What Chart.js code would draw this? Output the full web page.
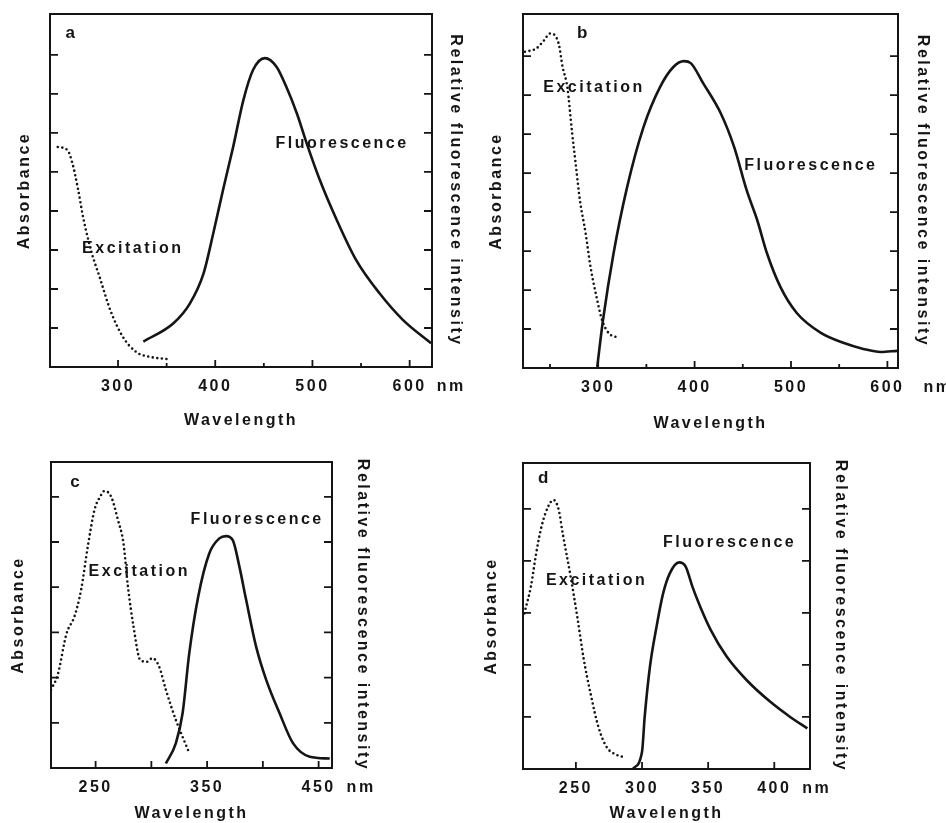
<!DOCTYPE html>
<html>
<head>
<meta charset="utf-8">
<script src="https://cdn.jsdelivr.net/npm/chart.js@4.4.1/dist/chart.umd.min.js"></script>
<style>
  html, body { margin: 0; padding: 0; background: #fff; }
  body { position: relative; width: 946px; height: 823px; overflow: hidden; }
  canvas { position: absolute; }
</style>
</head>
<body>
<canvas id="pa"></canvas>
<canvas id="pb"></canvas>
<canvas id="pc"></canvas>
<canvas id="pd"></canvas>
<script>
// ---- data (wavelength in nm, intensities in arbitrary units) ----
const aExWl  = [238, 248, 253, 259, 264, 273, 281, 292, 305, 319, 333, 351];
const aExAbs = [5.64, 5.56, 5.23, 4.54, 3.85, 2.92, 2.31, 1.46, 0.77, 0.38, 0.26, 0.2];
const aFlWl  = [326, 357, 374, 388, 398, 408, 418.5, 429, 439, 451, 463, 473, 484, 494, 507.5, 525, 545, 569, 593, 622];
const aFlInt = [0.65, 1.12, 1.63, 2.4, 3.43, 4.54, 5.65, 6.85, 7.62, 7.92, 7.7, 7.19, 6.5, 5.74, 4.8, 3.77, 2.74, 1.89, 1.21, 0.61];

const bExWl  = [224, 236, 244, 250, 259, 263, 268, 273, 277, 281, 287, 292, 299, 304, 311, 318];
const bExAbs = [8.11, 8.2, 8.41, 8.58, 8.32, 7.73, 7.2, 6.02, 5.16, 4.31, 3.45, 2.6, 1.74, 1.23, 0.89, 0.8];
const bFlWl  = [299, 305, 316, 330, 347, 364, 378, 389, 396, 409, 427, 441, 454, 465, 475, 489, 506, 531, 555, 575, 593, 610];
const bFlInt = [0.03, 1.23, 2.95, 4.64, 6.18, 7.2, 7.72, 7.87, 7.82, 7.3, 6.54, 5.67, 4.56, 3.79, 2.95, 2.08, 1.41, 0.9, 0.64, 0.49, 0.41, 0.44];

const cExWl  = [210, 216, 224, 231, 237, 243, 249, 254, 258, 264, 270, 275, 279, 284, 290, 296, 301, 307, 313, 322, 328, 334];
const cExAbs = [1.73, 2.06, 2.98, 3.35, 3.94, 4.9, 5.71, 6.0, 6.13, 6.0, 5.49, 4.97, 4.01, 3.13, 2.39, 2.35, 2.43, 2.24, 1.73, 1.06, 0.69, 0.33];
const cFlWl  = [313, 322, 328, 334, 342, 352, 361, 367, 373, 379, 385, 394, 403, 415, 427, 442, 460];
const cFlInt = [0.1, 0.55, 1.21, 2.54, 3.79, 4.75, 5.08, 5.13, 5.04, 4.45, 3.72, 2.68, 1.95, 1.21, 0.55, 0.25, 0.21];

const dExWl  = [211, 216, 220, 224, 229, 233, 237, 240, 246, 251, 256, 261, 267, 273, 281, 288];
const dExAbs = [2.99, 3.51, 4.15, 4.66, 5.04, 5.17, 4.98, 4.53, 3.7, 2.93, 2.1, 1.46, 0.81, 0.43, 0.27, 0.22];
const dFlWl  = [293, 300, 302, 306, 311, 316, 321, 328, 333, 338, 344, 352, 364, 379, 397, 412, 425];
const dFlInt = [0, 0.33, 1.0, 1.97, 2.74, 3.38, 3.76, 3.97, 3.89, 3.51, 3.12, 2.67, 2.16, 1.71, 1.29, 1.0, 0.78];

// tick values and tick labels
const aXTicks = [300, 350, 400, 450, 500, 550, 600];
const aXLabels = [300, 400, 500, 600];
const bXTicks = [250, 300, 350, 400, 450, 500, 550, 600];
const bXLabels = [300, 400, 500, 600];
const cXTicks = [250, 300, 350, 400, 450];
const cXLabels = [250, 350, 450];
const dXTicks = [250, 300, 350, 400];
const dXLabels = [250, 300, 350, 400];
const aYTicks = [1, 2, 3, 4, 5, 6, 7, 8];
const bYTicks = [1, 2, 3, 4, 5, 6, 7, 8];
const cYTicks = [1, 2, 3, 4, 5, 6];
const dYTicks = [1, 2, 3, 4, 5];

const FONT = "'Liberation Sans', Arial, Helvetica, sans-serif";
const INK = '#151515';
const txtFont = { family: FONT, size: 16, weight: 'bold', lineHeight: 1.2 };
const EXTRA_RIGHT = 40; // room for the "nm" unit

// panel layout (page pixels) + annotations placed in data coordinates
const panels = [
  { id: 'pa', box: { l: 50, t: 14, r: 432, b: 367 }, absX: 25, relX: 455, wavY: 420, nmDx: 27,
    xMin: 230, xMax: 623, yMax: 9.05, xTicks: aXTicks, xLabels: aXLabels, yTicks: aYTicks, minorLen: 4,
    ex: [aExWl, aExAbs], fl: [aFlWl, aFlInt],
    notes: [{ t: 'a', x: 246, y: 8.56, s: 17 }, { t: 'Excitation', x: 263, y: 3.03 }, { t: 'Fluorescence', x: 462, y: 5.74 }] },
  { id: 'pb', box: { l: 523, t: 14, r: 898, b: 368 }, absX: 497, relX: 922, wavY: 423, nmDx: 36,
    xMin: 222, xMax: 611, yMax: 9.08, xTicks: bXTicks, xLabels: bXLabels, yTicks: bYTicks, minorLen: 4,
    ex: [bExWl, bExAbs], fl: [bFlWl, bFlInt],
    notes: [{ t: 'b', x: 278, y: 8.59, s: 17 }, { t: 'Excitation', x: 243, y: 7.2 }, { t: 'Fluorescence', x: 451.6, y: 5.18 }] },
  { id: 'pc', box: { l: 51, t: 462, r: 332, b: 768 }, absX: 19, relX: 362, wavY: 813, nmDx: 28,
    xMin: 210, xMax: 462, yMax: 6.77, xTicks: cXTicks, xLabels: cXLabels, yTicks: cYTicks, minorLen: 7,
    ex: [cExWl, cExAbs], fl: [cFlWl, cFlInt],
    notes: [{ t: 'c', x: 227.3, y: 6.33, s: 17 }, { t: 'Excitation', x: 243.7, y: 4.34 }, { t: 'Fluorescence', x: 335.2, y: 5.49 }] },
  { id: 'pd', box: { l: 523, t: 463, r: 810, b: 769 }, absX: 492, relX: 840, wavY: 813, nmDx: 28,
    xMin: 210, xMax: 427, yMax: 5.88, xTicks: dXTicks, xLabels: dXLabels, yTicks: dYTicks, minorLen: 7,
    ex: [dExWl, dExAbs], fl: [dFlWl, dFlInt],
    notes: [{ t: 'd', x: 221.4, y: 5.58, s: 17 }, { t: 'Excitation', x: 227.3, y: 3.62 }, { t: 'Fluorescence', x: 315.9, y: 4.35 }] }
];

const zip = (xs, ys) => xs.map((x, i) => ({ x, y: ys[i] }));

// box, inward tick marks, in-plot labels and the "nm" unit
const framePlugin = {
  id: 'frame',
  beforeDraw(chart) { chart.ctx.letterSpacing = '2.5px'; },
  afterDraw(chart, args, opts) {
    const { ctx, chartArea: ca, scales } = chart;
    const { x, y } = scales;
    ctx.save();
    ctx.strokeStyle = INK;
    ctx.lineWidth = 2;
    ctx.strokeRect(ca.left, ca.top, ca.right - ca.left, ca.bottom - ca.top);

    ctx.lineWidth = 1.8;
    ctx.beginPath();
    x.ticks.forEach(t => {
      const px = x.getPixelForValue(t.value);
      ctx.moveTo(px, ca.bottom);
      ctx.lineTo(px, ca.bottom - (t.label ? 7 : opts.minorLen));
    });
    y.ticks.forEach(t => {
      const py = y.getPixelForValue(t.value);
      ctx.moveTo(ca.left, py); ctx.lineTo(ca.left + 8, py);
      ctx.moveTo(ca.right, py); ctx.lineTo(ca.right - 8, py);
    });
    ctx.stroke();

    ctx.fillStyle = INK;
    ctx.textBaseline = 'middle';
    ctx.textAlign = 'left';
    opts.notes.forEach(n => {
      ctx.font = 'bold ' + (n.s || 16) + 'px ' + FONT;
      ctx.fillText(n.t, x.getPixelForValue(n.x), y.getPixelForValue(n.y));
    });

    const labelled = x.ticks.filter(t => t.label);
    const last = labelled[labelled.length - 1];
    ctx.font = 'bold 16px ' + FONT;
    ctx.fillText('nm', x.getPixelForValue(last.value) + opts.nmDx, x.top + 10 + 9.6);
    ctx.restore();
  }
};

panels.forEach(p => {
  const cl = Math.round(p.absX - 9.6);
  const cr = Math.round(p.relX + 9.6);
  const ct = p.box.t - 6;
  const cb = Math.round(p.wavY + 9.6);
  const cv = document.getElementById(p.id);
  cv.width = cr - cl + EXTRA_RIGHT;
  cv.height = cb - ct;
  cv.style.left = cl + 'px';
  cv.style.top = ct + 'px';

  const leftW = p.box.l - cl;
  const rightW = cr - p.box.r;
  const bottomH = cb - p.box.b;
  const yTickSetter = s => { s.ticks = p.yTicks.map(v => ({ value: v })); };

  new Chart(cv.getContext('2d'), {
    type: 'line',
    data: {
      datasets: [
        {
          label: 'Excitation',
          data: zip(p.ex[0], p.ex[1]),
          yAxisID: 'y',
          borderColor: INK,
          borderWidth: 2.6,
          borderDash: [0, 4.6],
          borderCapStyle: 'round',
          pointRadius: 0,
          cubicInterpolationMode: 'monotone',
          fill: false
        },
        {
          label: 'Fluorescence',
          data: zip(p.fl[0], p.fl[1]),
          yAxisID: 'y2',
          borderColor: INK,
          borderWidth: 2.6,
          pointRadius: 0,
          cubicInterpolationMode: 'monotone',
          fill: false
        }
      ]
    },
    options: {
      responsive: false,
      animation: false,
      events: [],
      layout: { padding: { top: 6, left: 0, right: EXTRA_RIGHT, bottom: 0 } },
      plugins: {
        legend: { display: false },
        tooltip: { enabled: false },
        frame: { notes: p.notes, minorLen: p.minorLen, nmDx: p.nmDx }
      },
      scales: {
        x: {
          type: 'linear',
          min: p.xMin,
          max: p.xMax,
          grid: { display: false, drawTicks: false },
          border: { display: false },
          afterBuildTicks: s => { s.ticks = p.xTicks.map(v => ({ value: v })); },
          afterFit: s => { s.height = bottomH; },
          ticks: {
            autoSkip: false,
            maxRotation: 0,
            minRotation: 0,
            padding: 10,
            color: INK,
            font: txtFont,
            callback: v => p.xLabels.includes(v) ? String(v) : ''
          },
          title: { display: true, text: 'Wavelength', padding: 0, color: INK, font: txtFont }
        },
        y: {
          position: 'left',
          min: 0,
          max: p.yMax,
          grid: { display: false, drawTicks: false },
          border: { display: false },
          ticks: { display: false },
          afterBuildTicks: yTickSetter,
          afterFit: s => { s.width = leftW; },
          title: { display: true, text: 'Absorbance', padding: 0, color: INK, font: txtFont }
        },
        y2: {
          position: 'right',
          min: 0,
          max: p.yMax,
          grid: { display: false, drawTicks: false },
          border: { display: false },
          ticks: { display: false },
          afterBuildTicks: yTickSetter,
          afterFit: s => { s.width = rightW; },
          title: { display: true, text: 'Relative fluorescence intensity', padding: 0, color: INK, font: txtFont }
        }
      }
    },
    plugins: [framePlugin]
  });
});
</script>
</body>
</html>
